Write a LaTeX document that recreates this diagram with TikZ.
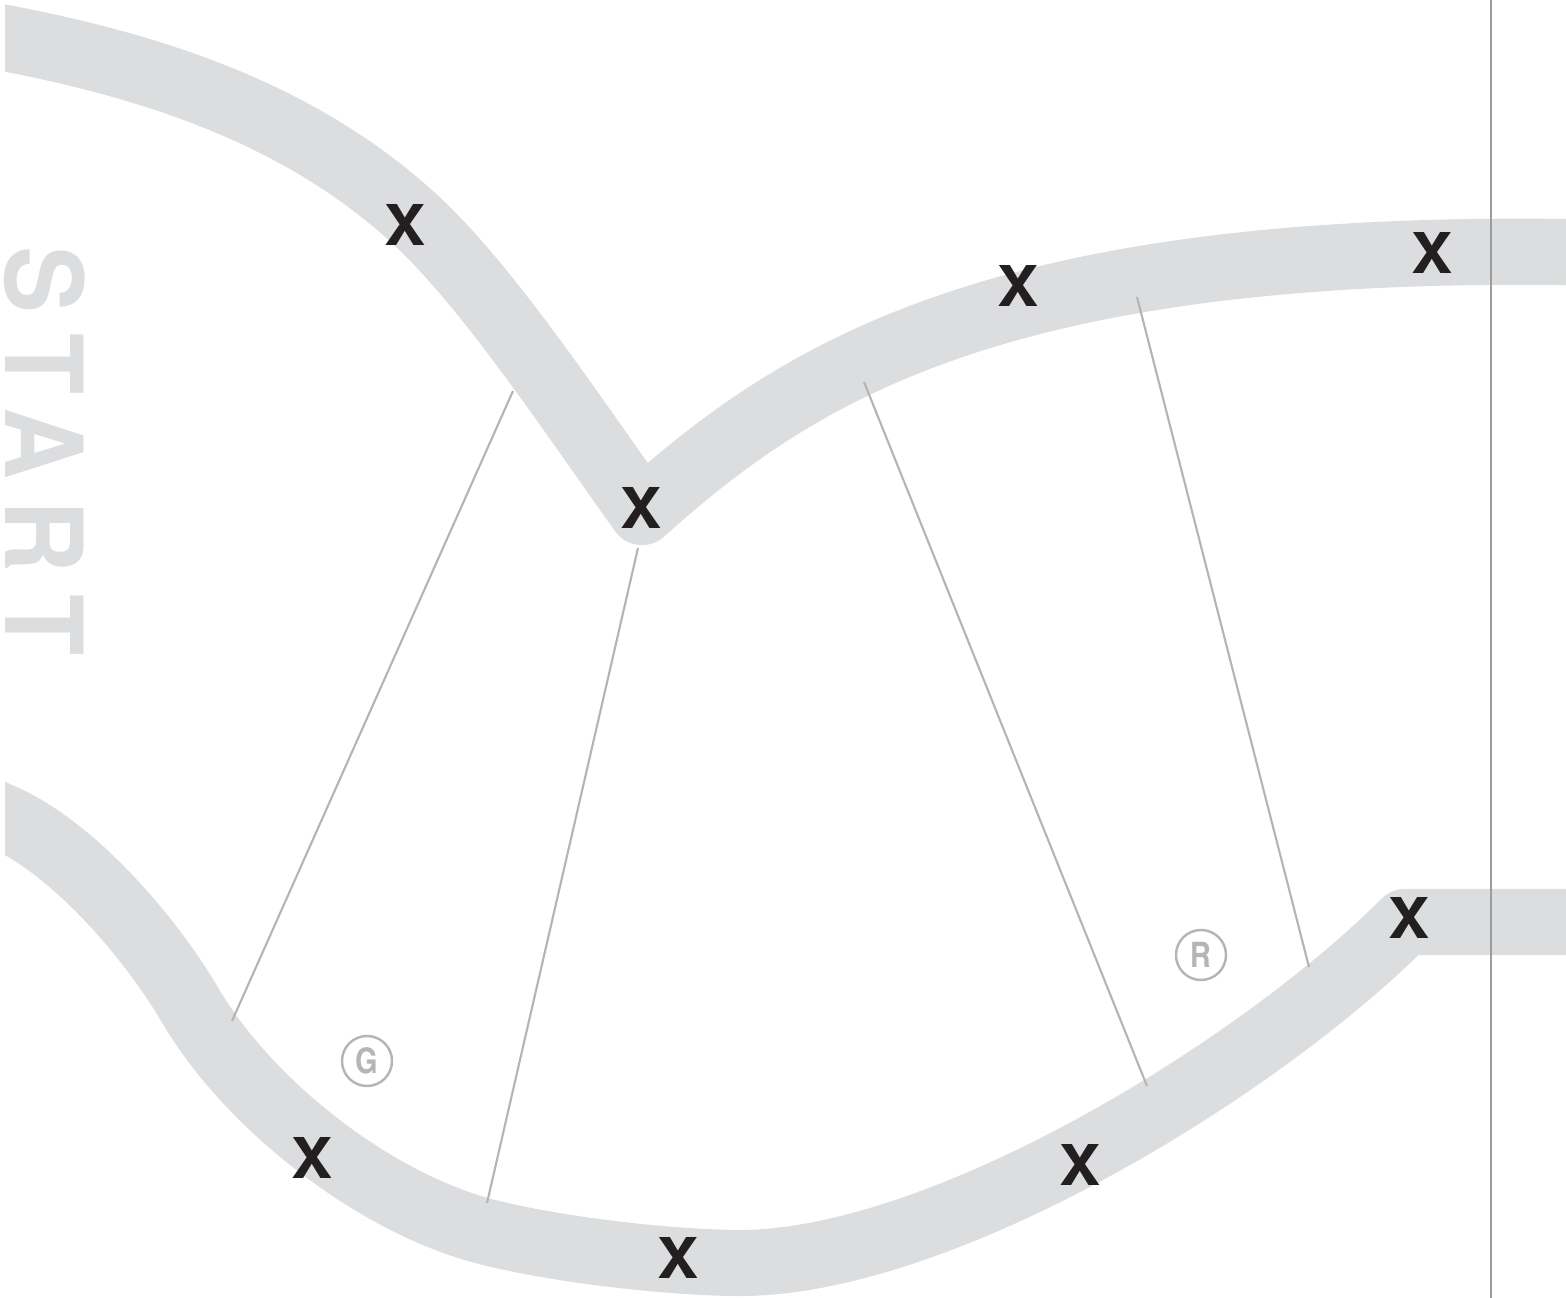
\documentclass[tikz,border=0pt]{standalone}
\usepackage{fontspec}
\setmainfont{Liberation Sans}
\newfontfamily\heavyfont{texgyreheros-bold.otf}
\newfontfamily\narrowfont{texgyreheroscn-bold.otf}
\usepackage{tikz}
\definecolor{bandgray}{HTML}{DCDDDF}
\definecolor{linegray}{HTML}{B4B4B4}
\definecolor{rulegray}{HTML}{9D9D9D}
\definecolor{markgray}{HTML}{B5B5B5}
\definecolor{xblack}{HTML}{231F20}

\begin{document}
\begin{tikzpicture}[x=0.01cm, y=-0.01cm,
    track/.style={draw=bandgray, line width=18.8pt, line join=round},
    spoke/.style={draw=linegray, line width=0.6pt},
    xmark/.style={text=xblack, inner sep=0pt, xscale=1.1, font=\heavyfont\fontsize{16}{16}\selectfont},
    badge/.style={circle, draw=markgray, line width=0.7pt, minimum size=0.5cm, inner sep=0pt, text=markgray, font=\narrowfont\fontsize{10}{10}\selectfont}]
  \useasboundingbox (0,0) rectangle (1566,1298);

  % tracks
  \begin{scope}
    \clip (5,0) rectangle (1600,1298);
    \draw[track] (-40,30) -- (5,38) .. controls (145,65) and (301,111) .. (421,225)
      .. controls (491,292) and (572,414) .. (642,512)
      .. controls (800,370) and (1000,245) .. (1566,252) -- (1600,252);
    \draw[track] (-40,798) -- (5,818) .. controls (75,850) and (150,937) .. (190,1005)
      .. controls (250,1107) and (377,1204) .. (487,1232)
      .. controls (567,1252) and (680,1263) .. (740,1263)
      .. controls (940,1263) and (1255,1072) .. (1405,922) -- (1600,922);
  \end{scope}

  % spokes
  \coordinate (s1a) at (513,391);  \coordinate (s1b) at (232,1021);
  \coordinate (s2a) at (638,548);  \coordinate (s2b) at (487,1203);
  \coordinate (s3a) at (864,382);  \coordinate (s3b) at (1147,1086);
  \coordinate (s4a) at (1137,297); \coordinate (s4b) at (1309,967);
  \draw[spoke] (s1a) -- (s1b);
  \draw[spoke] (s2a) -- (s2b);
  \draw[spoke] (s3a) -- (s3b);
  \draw[spoke] (s4a) -- (s4b);

  % finish rule
  \coordinate (ruletop) at (1491,0);
  \coordinate (rulebot) at (1491,1298);
  \draw[rulegray, line width=0.6pt] (ruletop) -- (rulebot);

  % start label
  \node[rotate=-90, anchor=base west, text=bandgray, inner sep=0pt, text depth=0pt, font=\heavyfont\fontsize{30.6}{30.6}\selectfont\addfontfeature{LetterSpace=21}] (start) at (5,246) {\scalebox{0.93}[1]{START}};

  % checkpoints
  \node[xmark] (x1) at (405,225) {X};
  \node[xmark] (x2) at (641,508) {X};
  \node[xmark] (x3) at (1018,286) {X};
  \node[xmark] (x4) at (1432,253) {X};
  \node[xmark] (x5) at (1409,918) {X};
  \node[xmark] (x6) at (312,1158) {X};
  \node[xmark] (x7) at (678,1258) {X};
  \node[xmark] (x8) at (1080,1165) {X};

  % badges
  \node[badge] (gbadge) at (367,1061) {G};
  \node[badge] (rbadge) at (1201,955) {R};
\end{tikzpicture}
\end{document}
